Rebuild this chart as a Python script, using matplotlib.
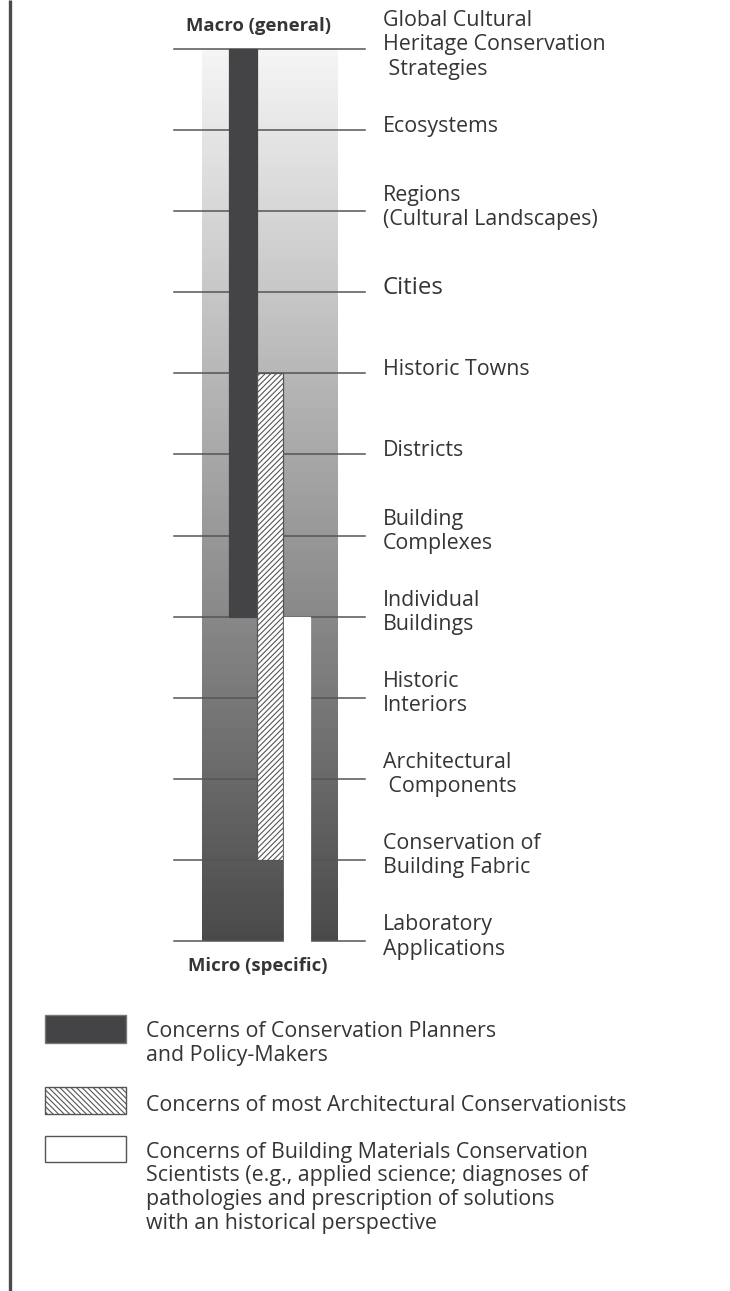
import matplotlib
matplotlib.use("Agg")
import matplotlib.pyplot as plt
import numpy as np
from matplotlib.patches import Rectangle

plt.rcParams["font.family"] = ["Open Sans", "DejaVu Sans"]
plt.rcParams["hatch.linewidth"] = 0.8

# scale levels, from general (top) to specific (bottom)
levels = [
    "Global Cultural\nHeritage Conservation\n Strategies",
    "Ecosystems",
    "Regions\n(Cultural Landscapes)",
    "Cities",
    "Historic Towns",
    "Districts",
    "Building\nComplexes",
    "Individual\nBuildings",
    "Historic\nInteriors",
    "Architectural\n Components",
    "Conservation of\nBuilding Fabric",
    "Laboratory\nApplications",
]

# who is concerned with which span of levels (index of first / last level)
concerns = [
    "Concerns of Conservation Planners\nand Policy-Makers",
    "Concerns of most Architectural Conservationists",
    "Concerns of Building Materials Conservation\nScientists (e.g., applied science; diagnoses of\n"
    "pathologies and prescription of solutions\nwith an historical perspective",
]
concern_start = [0, 4, 7]
concern_end = [7, 10, 11]

TEXT = "#353535"
LINE = "#555555"
DARK = "#444446"
styles = [
    dict(facecolor=DARK, edgecolor=DARK, hatch=None),
    dict(facecolor="white", edgecolor="#555555", hatch="//////"),
    dict(facecolor="white", edgecolor="white", hatch=None),
]
bar_x = [242.5, 269.5, 296.5]
bar_w = [28, 26, 26]

W, H = 730, 1291
fig = plt.figure(figsize=(W / 100, H / 100), dpi=100)

# pixel-space axes for frame and legend
axp = fig.add_axes([0, 0, 1, 1])
axp.set_xlim(0, W)
axp.set_ylim(H, 0)
axp.axis("off")

# level-space axes for the scale itself
top_px, bot_px = 49, 941
step = (bot_px - top_px) / (len(levels) - 1)
ax = fig.add_axes([0, 0, 1, 1])
ax.set_xlim(0, W)
ax.set_ylim((H - top_px) / step, -top_px / step)
ax.axis("off")
n = len(levels) - 1

# left frame line
axp.plot([9.5, 9.5], [0, H], color="#4a4a4a", lw=2.4, solid_capstyle="butt")

# gray gradient column
grad = np.linspace(0.96, 0.29, 256).reshape(-1, 1)
ax.imshow(grad, cmap="gray", vmin=0, vmax=1, aspect="auto",
          extent=[202, 338, n, 0], zorder=1)

# level lines
for i in range(len(levels)):
    ax.plot([174, 365], [i, i], color=LINE, lw=1.1, zorder=2)

# concern bars
for k in range(len(concerns)):
    s, e = concern_start[k], concern_end[k]
    st = styles[k]
    ax.bar(bar_x[k], e - s, bottom=s, width=bar_w[k], facecolor=st["facecolor"],
           edgecolor=st["edgecolor"], hatch=st["hatch"], lw=0.9, zorder=3)

# level labels
for i, lab in enumerate(levels):
    size = 17.3 if lab == "Cities" else 15.4
    ax.text(383, i - 0.05, lab, ha="left", va="center", fontsize=size,
            color=TEXT, linespacing=1.2)

ax.text(258, -0.285, "Macro (general)", ha="center", va="center",
        fontsize=13.3, fontweight="bold", color=TEXT)
ax.text(258, n + 0.31, "Micro (specific)", ha="center", va="center",
        fontsize=13.3, fontweight="bold", color=TEXT)

# legend
leg_box_top = [1015, 1087, 1136]
leg_box_h = [28, 27, 26]
leg_text_base = [1037, 1111, 1158]
leg_line_gap = 23.5
leg_styles = [
    dict(facecolor=DARK, edgecolor="#777777", hatch=None),
    dict(facecolor="white", edgecolor="#555555", hatch="\\\\\\\\\\\\"),
    dict(facecolor="white", edgecolor="#555555", hatch=None),
]
for k, name in enumerate(concerns):
    st = leg_styles[k]
    axp.add_patch(Rectangle((45, leg_box_top[k]), 81, leg_box_h[k],
                            facecolor=st["facecolor"], edgecolor=st["edgecolor"],
                            hatch=st["hatch"], lw=1.0))
    for j, line in enumerate(name.split("\n")):
        axp.text(146, leg_text_base[k] + j * leg_line_gap, line, ha="left",
                 va="baseline", fontsize=15.4, color=TEXT)

fig.savefig("out.png", dpi=100)
